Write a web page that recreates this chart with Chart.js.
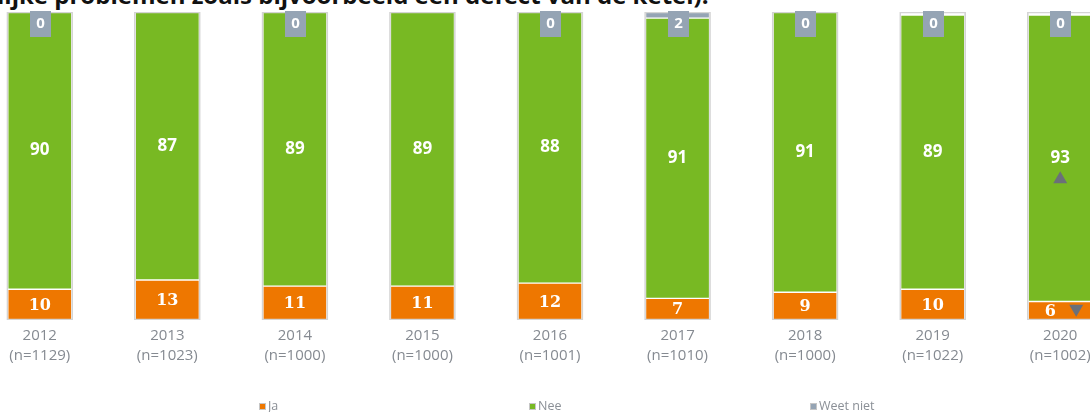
<!DOCTYPE html>
<html lang="nl">
<head>
<meta charset="utf-8">
<title>Problemen met de verwarming</title>
<script src="https://cdn.jsdelivr.net/npm/chart.js@4.4.1/dist/chart.umd.min.js"></script>
<style>
  html, body { margin: 0; padding: 0; width: 1090px; height: 412px; overflow: hidden; background: #fff; }
  #kop {
    position: absolute; left: -3px; top: -22px;
    font: bold 24px "Open Sans", sans-serif; color: #111;
    white-space: nowrap;
  }
  #grafiekVak { position: absolute; left: -24px; top: 0; width: 1148px; height: 412px; }
  .legenda {
    position: absolute; top: 397px;
    font: 12.5px "Open Sans", sans-serif; color: #8a8f96;
    white-space: nowrap;
  }
  .legenda i {
    display: inline-block; width: 5px; height: 5px;
    border: 1px solid #c6c6c6;
    margin-right: 2px; vertical-align: 0px;
  }
</style>
</head>
<body>
<div id="kop">lijke problemen zoals bijvoorbeeld een defect van de ketel).</div>
<div id="grafiekVak"><canvas id="grafiek"></canvas></div>
<div id="legendaJa" class="legenda" style="left:259px"><i style="background:#ee7700"></i>Ja</div>
<div id="legendaNee" class="legenda" style="left:529px"><i style="background:#78b923"></i>Nee</div>
<div id="legendaWn" class="legenda" style="left:810px"><i style="background:#95a4b4"></i>Weet niet</div>

<script>
// Antwoorden per meetjaar (percentages)
const jaren = ['2012', '2013', '2014', '2015', '2016', '2017', '2018', '2019', '2020'];
const steekproef = ['(n=1129)', '(n=1023)', '(n=1000)', '(n=1000)', '(n=1001)', '(n=1010)', '(n=1000)', '(n=1022)', '(n=1002)'];
const ja = [10, 13, 11, 11, 12, 7, 9, 10, 6];
const nee = [90, 87, 89, 89, 88, 91, 91, 89, 93];
const weetNiet = [0, null, 0, null, 0, 2, 0, 0, 0];
// significante verandering t.o.v. vorige meting
const trendJa = [null, null, null, null, null, null, null, null, 'omlaag'];
const trendNee = [null, null, null, null, null, null, null, null, 'omhoog'];

const kleurJa = '#ee7700';
const kleurNee = '#78b923';
const kleurWn = '#95a4b4';
const kleurPijl = '#6b7079';

function driehoek(ctx, x, y, b, h, omhoog) {
    ctx.beginPath();
    if (omhoog) {
        ctx.moveTo(x, y - h / 2);
        ctx.lineTo(x + b / 2, y + h / 2);
        ctx.lineTo(x - b / 2, y + h / 2);
    } else {
        ctx.moveTo(x - b / 2, y - h / 2);
        ctx.lineTo(x + b / 2, y - h / 2);
        ctx.lineTo(x, y + h / 2);
    }
    ctx.closePath();
    ctx.fillStyle = kleurPijl;
    ctx.fill();
}

// Waarden in de staven, "weet niet" als blokje bovenaan
const waardeLabels = {
    id: 'waardeLabels',
    afterDatasetsDraw(chart) {
        const ctx = chart.ctx;
        const yAs = chart.scales.y;
        ctx.save();
        ctx.textAlign = 'center';
        ctx.textBaseline = 'middle';

        // Ja
        chart.getDatasetMeta(0).data.forEach((staaf, i) => {
            const midden = (staaf.y + staaf.base) / 2;
            let x = staaf.x;
            if (trendJa[i]) {
                x -= 10;
                driehoek(ctx, staaf.x + 16, midden, 14, 12, trendJa[i] === 'omhoog');
            }
            ctx.fillStyle = '#fff';
            ctx.font = 'bold 16px "DejaVu Serif", serif';
            ctx.fillText(ja[i], x, midden + 1);
        });

        // Nee
        chart.getDatasetMeta(1).data.forEach((staaf, i) => {
            const midden = (staaf.y + staaf.base) / 2;
            ctx.fillStyle = '#fff';
            ctx.font = 'bold 17px "Open Sans", sans-serif';
            ctx.fillText(nee[i], staaf.x, midden);
            if (trendNee[i]) {
                driehoek(ctx, staaf.x, midden + 19, 14, 12, trendNee[i] === 'omhoog');
            }
        });

        // Weet niet
        const boven = yAs.getPixelForValue(100);
        chart.getDatasetMeta(1).data.forEach((staaf, i) => {
            if (weetNiet[i] === null) return;
            ctx.fillStyle = kleurWn;
            ctx.fillRect(Math.round(staaf.x) - 10, boven - 1, 21, 26);
            ctx.fillStyle = '#fff';
            ctx.font = 'bold 15px "Open Sans", sans-serif';
            ctx.fillText(weetNiet[i], Math.round(staaf.x) + 0.5, boven + 12);
        });
        ctx.restore();
    }
};

const staafOpties = {
    grouped: false,
    barThickness: 64,
    maxBarThickness: 64,
    borderWidth: 1,
    borderColor: '#fff',
    borderSkipped: false,
    stack: 'antwoord',
    order: 1
};

new Chart(document.getElementById('grafiek'), {
    type: 'bar',
    data: {
        labels: jaren.map((j, i) => [j, steekproef[i]]),
        datasets: [
            Object.assign({ label: 'Ja', data: ja, backgroundColor: kleurJa }, staafOpties),
            Object.assign({ label: 'Nee', data: nee, backgroundColor: kleurNee }, staafOpties),
            Object.assign({ label: 'Weet niet', data: weetNiet, backgroundColor: kleurWn }, staafOpties),
            {
                // lichtgrijze rand om elke kolom
                label: 'kader',
                data: jaren.map(() => 100),
                grouped: false,
                barThickness: 66,
                maxBarThickness: 66,
                backgroundColor: 'rgba(0,0,0,0)',
                borderColor: '#d4d4d4',
                borderWidth: 1,
                borderSkipped: false,
                stack: 'kader',
                order: 0
            }
        ]
    },
    options: {
        responsive: true,
        maintainAspectRatio: false,
        animation: false,
        layout: { padding: { top: 12, bottom: 40, left: 0, right: 0 } },
        plugins: {
            legend: { display: false },
            tooltip: { enabled: false }
        },
        scales: {
            x: {
                stacked: true,
                grid: { display: false, drawTicks: false },
                border: { display: false },
                ticks: {
                    autoSkip: false,
                    maxRotation: 0,
                    padding: 6,
                    color: '#858a91',
                    font: { family: '"Open Sans", sans-serif', size: 15, lineHeight: 1.333 }
                }
            },
            y: {
                stacked: true,
                display: false,
                min: 0,
                max: 100
            }
        }
    },
    plugins: [waardeLabels]
});
</script>
</body>
</html>
